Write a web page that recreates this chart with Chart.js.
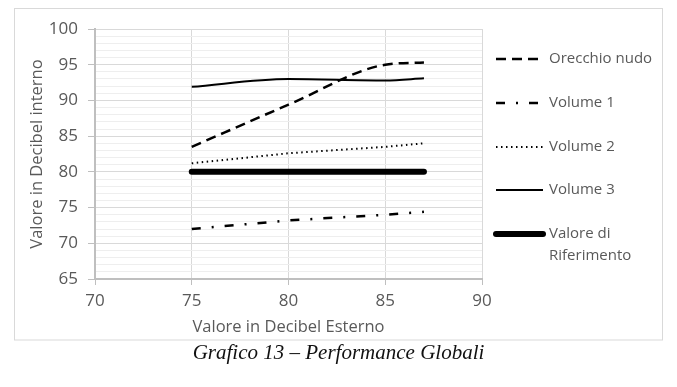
<!DOCTYPE html>
<html>
<head>
<meta charset="utf-8">
<script src="https://cdn.jsdelivr.net/npm/chart.js@4/dist/chart.umd.min.js"></script>
<style>
    body { margin: 0; background: #fff; }
    .wrap { position: relative; width: 677px; height: 387px; }
    .caption {
        position: absolute; left: 0; top: 340px; width: 677px;
        text-align: center; font-family: "Liberation Serif", "DejaVu Serif", serif;
        font-style: italic; font-size: 21px; color: #111;
    }
</style>
</head>
<body>
<div class="wrap">
    <canvas id="perfChart" width="677" height="387"></canvas>
    <div class="caption">Grafico 13 – Performance Globali</div>
</div>
<script>
// values
const xValues = [75, 80, 85, 87];
const orecchioNudo = [83.5, 89.4, 95.0, 95.3];
const volume1 = [72.0, 73.2, 74.0, 74.4];
const volume2 = [81.2, 82.6, 83.5, 84.0];
const volume3 = [91.9, 93.0, 92.8, 93.1];
const riferimento = [80, 80, 80, 80];

const seriesLabels = ['Orecchio nudo', 'Volume 1', 'Volume 2', 'Volume 3', 'Valore di Riferimento'];

const textGray = '#595959';
const fontFamily = '"Open Sans", "Noto Sans", sans-serif';

const toPoints = (ys) => xValues.map((x, i) => ({ x: x, y: ys[i] }));

// frame around the chart
const framePlugin = {
    id: 'frame',
    beforeDraw(chart) {
        const ctx = chart.ctx;
        ctx.save();
        ctx.strokeStyle = '#d9d9d9';
        ctx.lineWidth = 1;
        ctx.strokeRect(14.5, 8.5, 648, 331.5);
        ctx.restore();
    }
};

// legend on the right with line samples
const lineLegend = {
    id: 'lineLegend',
    afterDraw(chart) {
        const ctx = chart.ctx;
        const rows = [59, 103, 147, 190, 234];
        ctx.save();
        ctx.font = '15px ' + fontFamily;
        ctx.textBaseline = 'middle';
        chart.data.datasets.forEach((ds, i) => {
            const y = rows[i];
            ctx.strokeStyle = ds.borderColor;
            ctx.lineWidth = ds.borderWidth;
            ctx.lineCap = ds.borderCapStyle || 'butt';
            ctx.setLineDash(ds.borderDash || []);
            ctx.beginPath();
            ctx.moveTo(496, y);
            ctx.lineTo(543, y);
            ctx.stroke();
            ctx.setLineDash([]);
            // simple word wrap
            const words = ds.label.split(' ');
            const lines = [];
            let cur = '';
            words.forEach(w => {
                const test = cur ? cur + ' ' + w : w;
                if (ctx.measureText(test).width > 110 && cur) {
                    lines.push(cur);
                    cur = w;
                } else {
                    cur = test;
                }
            });
            lines.push(cur);
            ctx.fillStyle = textGray;
            lines.forEach((t, k) => ctx.fillText(t, 549, y + k * 22));
        });
        ctx.restore();
    }
};

const ctx = document.getElementById('perfChart').getContext('2d');
const perfChart = new Chart(ctx, {
    type: 'line',
    data: {
        datasets: [
            {
                label: seriesLabels[0],
                data: toPoints(orecchioNudo),
                borderColor: '#000',
                borderWidth: 2.5,
                borderDash: [10, 6],
                cubicInterpolationMode: 'monotone',
            },
            {
                label: seriesLabels[1],
                data: toPoints(volume1),
                borderColor: '#000',
                borderWidth: 2.5,
                borderDash: [9, 11, 2, 11],
            },
            {
                label: seriesLabels[2],
                data: toPoints(volume2),
                borderColor: '#000',
                borderWidth: 2,
                borderDash: [1.5, 3.5],
            },
            {
                label: seriesLabels[3],
                data: toPoints(volume3),
                borderColor: '#000',
                borderWidth: 2,
                cubicInterpolationMode: 'monotone',
            },
            {
                label: seriesLabels[4],
                data: toPoints(riferimento),
                borderColor: '#000',
                borderWidth: 6,
                borderCapStyle: 'round',
            },
        ],
    },
    options: {
        responsive: false,
        animation: false,
        elements: { point: { radius: 0 } },
        layout: { padding: { left: 0, top: 29, right: 195, bottom: 0 } },
        plugins: {
            legend: { display: false },
            tooltip: { enabled: false },
        },
        scales: {
            x: {
                type: 'linear',
                min: 70,
                max: 90,
                afterFit: (scale) => { scale.height = 108; },
                ticks: {
                    stepSize: 5,
                    color: textGray,
                    padding: 6,
                    font: { family: fontFamily, size: 17 },
                },
                grid: { color: '#d9d9d9', tickColor: '#bfbfbf', tickLength: 6 },
                border: { color: '#bfbfbf', width: 2 },
                title: {
                    display: true,
                    text: 'Valore in Decibel Esterno',
                    color: textGray,
                    font: { family: fontFamily, size: 16.5 },
                    padding: { top: 0, bottom: 50 },
                },
            },
            y: {
                min: 65,
                max: 100,
                afterFit: (scale) => { scale.width = 95; },
                ticks: {
                    stepSize: 1,
                    autoSkip: false,
                    color: textGray,
                    padding: 10,
                    font: { family: fontFamily, size: 17 },
                    callback: (v) => (v % 5 === 0 ? v : ''),
                },
                grid: {
                    color: (c) => (c.tick && c.tick.value % 5 === 0 ? '#d9d9d9' : '#eeeeee'),
                    tickColor: (c) => (c.tick && c.tick.value % 5 === 0 ? '#bfbfbf' : 'rgba(0,0,0,0)'),
                    tickLength: 7,
                },
                border: { color: '#bfbfbf', width: 2 },
                title: {
                    display: true,
                    text: 'Valore in Decibel interno',
                    color: textGray,
                    font: { family: fontFamily, size: 16.5 },
                    padding: { top: 27, bottom: 0 },
                },
            },
        },
    },
    plugins: [framePlugin, lineLegend],
});
</script>
</body>
</html>
